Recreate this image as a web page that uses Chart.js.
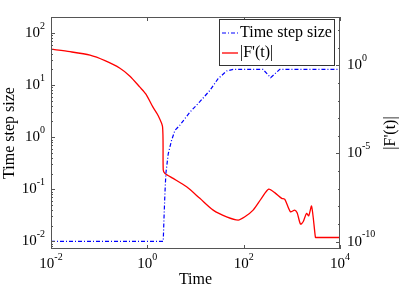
<!DOCTYPE html>
<html>
<head>
<meta charset="utf-8">
<script src="https://cdn.jsdelivr.net/npm/chart.js@4.4.1/dist/chart.umd.min.js"></script>
<style>
  html, body { margin: 0; padding: 0; background: #fff; }
  #wrap { width: 399px; height: 297px; }
</style>
</head>
<body>
<div id="wrap"><canvas id="chart" width="399" height="297"></canvas></div>
<script>
// Time step size (left axis)
const stepTimes = [0.01, 2.14, 2.21, 2.32, 2.43, 2.72, 3.19, 3.74, 4.74, 7.66, 12.3, 20.0, 29.5, 44.2, 60.3, 251, 363, 562, 10000];
const stepSizes = [0.01, 0.01, 0.0254, 0.0838, 0.203, 0.484, 0.871, 1.35, 1.70, 3.02, 4.79, 7.94, 13.3, 18.6, 20.0, 20.0, 13.9, 20.0, 20.0];

// |F'(t)| (right axis)
const gradTimes = [0.01, 0.0248, 0.0646, 0.132, 0.270, 0.436, 0.701, 0.935, 1.31, 1.66, 2.07, 2.14, 2.32, 3.44, 6.53, 12.3, 23.3, 44.2, 76.9, 106, 157, 234, 331, 447, 617, 716, 933, 1148, 1288, 1514, 1718, 2018, 2239, 2570, 3090, 3200, 10000];
const gradValues = [8.04, 5.81, 3.68, 1.80, 0.676, 0.238, 0.0569, 0.0229, 4.2e-3, 1.48e-3, 3.24e-4, 1.15e-6, 7.41e-7, 3.89e-7, 1.29e-7, 2.88e-8, 6.17e-9, 2.57e-9, 1.70e-9, 2.60e-9, 6.17e-9, 2.88e-8, 9.55e-8, 5.89e-8, 2.88e-8, 2.51e-8, 5.01e-9, 6.17e-9, 4.37e-9, 1.0e-9, 1.35e-9, 4.07e-9, 2.95e-9, 1.05e-8, 1.74e-10, 1.74e-10, 1.74e-10];

// tick labels
const xTicks = [1e-2, 1e0, 1e2, 1e4];
const leftTicks = [1e-2, 1e-1, 1e0, 1e1, 1e2];
const rightTicks = [1e-10, 1e-5, 1e0];

const SERIF = '"Liberation Serif", "DejaVu Serif", serif';

function drawPower(ctx, v, x, y, align) {
    const e = Math.round(Math.log10(v));
    const base = '10';
    const exp = String(e);
    ctx.font = '15px ' + SERIF;
    const bw = ctx.measureText(base).width;
    ctx.font = '10px ' + SERIF;
    const ew = ctx.measureText(exp).width;
    const total = bw + ew;
    let x0 = x;
    if (align === 'right') x0 = x - total;
    if (align === 'center') x0 = x - total / 2;
    ctx.textAlign = 'left';
    ctx.textBaseline = 'middle';
    ctx.font = '15px ' + SERIF;
    ctx.fillText(base, x0, y);
    ctx.font = '10px ' + SERIF;
    ctx.fillText(exp, x0 + bw, y - 7);
}

const axesPlugin = {
    id: 'matlabAxes',
    afterDraw(chart) {
        const ctx = chart.ctx;
        const area = chart.chartArea;
        const xs = chart.scales.x, ys = chart.scales.y, y1 = chart.scales.y1;
        ctx.save();
        ctx.strokeStyle = '#555';
        ctx.lineWidth = 1;

        // box
        ctx.strokeRect(Math.round(area.left) + 0.5, Math.round(area.top) + 0.5,
            Math.round(area.right - area.left) - 1, Math.round(area.bottom - area.top) - 1);

        ctx.beginPath();
        // x ticks, bottom and top
        xTicks.forEach(v => {
            const px = Math.round(xs.getPixelForValue(v)) + 0.5;
            ctx.moveTo(px, area.bottom); ctx.lineTo(px, area.bottom - 4);
            ctx.moveTo(px, area.top); ctx.lineTo(px, area.top + 4);
        });
        // left ticks, major + minor
        for (let d = -3; d <= 2; d++) {
            for (let k = 1; k <= 9; k++) {
                const v = k * Math.pow(10, d);
                if (v < ys.min || v > ys.max) continue;
                const py = Math.round(ys.getPixelForValue(v)) + 0.5;
                const len = k === 1 ? 4 : 2;
                ctx.moveTo(area.left, py); ctx.lineTo(area.left + len, py);
            }
        }
        // right ticks, major every 5 decades, minor each decade
        for (let d = -11; d <= 3; d++) {
            const v = Math.pow(10, d);
            if (v < y1.min || v > y1.max) continue;
            const py = Math.round(y1.getPixelForValue(v)) + 0.5;
            const len = d % 5 === 0 ? 4 : 2;
            ctx.moveTo(area.right, py); ctx.lineTo(area.right - len, py);
        }
        ctx.stroke();

        // tick labels
        ctx.fillStyle = '#000';
        xTicks.forEach(v => drawPower(ctx, v, xs.getPixelForValue(v), area.bottom + 15, 'center'));
        leftTicks.forEach(v => drawPower(ctx, v, area.left - 6, ys.getPixelForValue(v), 'right'));
        rightTicks.forEach(v => drawPower(ctx, v, area.right + 7, y1.getPixelForValue(v), 'left'));

        // axis titles
        ctx.font = '16px ' + SERIF;
        ctx.textAlign = 'center';
        ctx.textBaseline = 'middle';
        ctx.fillText('Time', (area.left + area.right) / 2, area.bottom + 31);
        const midY = (area.top + area.bottom) / 2;
        ctx.save();
        ctx.translate(10, midY);
        ctx.rotate(-Math.PI / 2);
        ctx.fillText('Time step size', 0, 0);
        ctx.restore();
        ctx.save();
        ctx.translate(391, midY);
        ctx.rotate(-Math.PI / 2);
        ctx.fillText("|F'(t)|", 0, 0);
        ctx.restore();

        // legend
        const lx = 219.5, ly = 19.5, lw = 115, lh = 46;
        ctx.fillStyle = '#fff';
        ctx.fillRect(lx, ly, lw, lh);
        ctx.strokeStyle = '#333';
        ctx.strokeRect(lx, ly, lw, lh);
        chart.data.datasets.forEach((ds, i) => {
            const rowY = 33 + i * 20;
            ctx.save();
            ctx.strokeStyle = ds.borderColor;
            ctx.lineWidth = ds.borderWidth;
            ctx.setLineDash(ds.borderDash || []);
            ctx.beginPath();
            ctx.moveTo(222, rowY); ctx.lineTo(238, rowY);
            ctx.stroke();
            ctx.restore();
            ctx.fillStyle = '#000';
            ctx.font = '16px ' + SERIF;
            ctx.textAlign = 'left';
            ctx.textBaseline = 'middle';
            ctx.fillText(ds.label, 240, rowY);
        });
        ctx.restore();
    }
};

const ctx = document.getElementById('chart').getContext('2d');
new Chart(ctx, {
    type: 'line',
    data: {
        datasets: [
            {
                label: 'Time step size',
                data: stepTimes.map((t, i) => ({ x: t, y: stepSizes[i] })),
                yAxisID: 'y',
                borderColor: '#0000ff',
                borderWidth: 1.2,
                borderDash: [4, 2, 1, 2],
                pointRadius: 0,
                fill: false
            },
            {
                label: "|F'(t)|",
                data: gradTimes.map((t, i) => ({ x: t, y: gradValues[i] })),
                yAxisID: 'y1',
                borderColor: '#ff0000',
                borderWidth: 1.3,
                pointRadius: 0,
                tension: 0.25,
                fill: false
            }
        ]
    },
    options: {
        responsive: false,
        animation: false,
        devicePixelRatio: 1,
        layout: { padding: { top: 17, left: 0, right: 0, bottom: 0 } },
        plugins: { legend: { display: false }, tooltip: { enabled: false } },
        scales: {
            x: {
                type: 'logarithmic', min: 1e-2, max: 1e4,
                grid: { display: false }, ticks: { display: false }, border: { display: false },
                afterFit(s) { s.height = 48; }
            },
            y: {
                type: 'logarithmic', position: 'left',
                min: Math.pow(10, -2.148), max: Math.pow(10, 2.307),
                grid: { display: false }, ticks: { display: false }, border: { display: false },
                afterFit(s) { s.width = 51; }
            },
            y1: {
                type: 'logarithmic', position: 'right',
                min: Math.pow(10, -10.41), max: Math.pow(10, 2.73),
                grid: { display: false }, ticks: { display: false }, border: { display: false },
                afterFit(s) { s.width = 59; }
            }
        }
    },
    plugins: [axesPlugin]
});
</script>
</body>
</html>
